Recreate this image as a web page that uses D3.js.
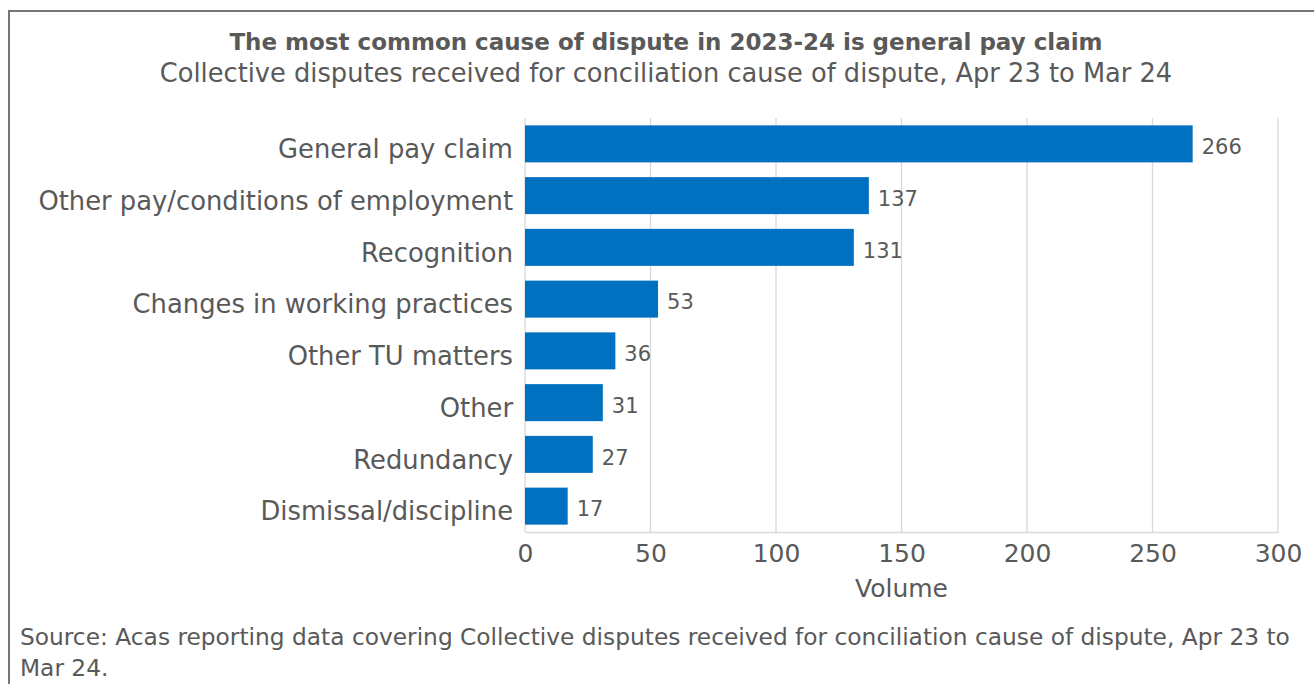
<!DOCTYPE html>
<html>
<head>
<meta charset="utf-8">
<script src="https://cdn.jsdelivr.net/npm/d3@7"></script>
<style>
  html, body { margin: 0; padding: 0; background: #fff; }
  svg { display: block; }
  text { font-family: "DejaVu Sans", sans-serif; fill: #595959; }
</style>
</head>
<body>
<svg id="chart" width="1314" height="684"></svg>
<script>
const categories = ["General pay claim", "Other pay/conditions of employment", "Recognition",
  "Changes in working practices", "Other TU matters", "Other", "Redundancy", "Dismissal/discipline"];
const values = [266, 137, 131, 53, 36, 31, 27, 17];
const xTicks = [0, 50, 100, 150, 200, 250, 300];
const titleText = "The most common cause of dispute in 2023-24 is general pay claim";
const subtitleText = "Collective disputes received for conciliation cause of dispute, Apr 23 to Mar 24";
const xAxisTitle = "Volume";
const sourceLines = ["Source: Acas reporting data covering Collective disputes received for conciliation cause of dispute, Apr 23 to", "Mar 24."];

const svg = d3.select("#chart");

// outer frame
svg.append("rect").attr("x", 9).attr("y", 11).attr("width", 1330).attr("height", 700)
  .attr("fill", "none").attr("stroke", "#767676").attr("stroke-width", 2);

const m = { left: 525, right: 1278, top: 118, bottom: 532 };

const x = d3.scaleLinear().domain([0, 300]).range([m.left, m.right]);
const y = d3.scaleBand().domain(categories).range([m.top, m.bottom]).paddingInner(0.285).paddingOuter(0.1425);

// gridlines
svg.append("g").selectAll("line").data(xTicks).join("line")
  .attr("x1", d => x(d)).attr("x2", d => x(d))
  .attr("y1", m.top).attr("y2", m.bottom)
  .attr("stroke", "#d9d9d9").attr("stroke-width", 1.3);

// bars
svg.append("g").selectAll("rect").data(values).join("rect")
  .attr("x", x(0)).attr("y", (d, i) => y(categories[i]))
  .attr("width", d => x(d) - x(0)).attr("height", y.bandwidth())
  .attr("fill", "#0070c0");

// value labels
svg.append("g").selectAll("text").data(values).join("text")
  .attr("x", d => x(d) + 9).attr("y", (d, i) => y(categories[i]) + y.bandwidth() / 2 + 3)
  .attr("dy", "0.35em").attr("font-size", 21).text(d => d);

// x axis
const xAxis = svg.append("g").attr("transform", `translate(0,${m.bottom})`)
  .call(d3.axisBottom(x).tickValues(xTicks).tickSize(0).tickPadding(12));
xAxis.select(".domain").attr("stroke", "#d9d9d9").attr("stroke-width", 1.5);
xAxis.selectAll("text").attr("font-size", 25).attr("fill", "#595959")
  .style("font-family", "DejaVu Sans, sans-serif").attr("dy", "0.71em");

// y axis
const yAxis = svg.append("g").attr("transform", `translate(${m.left},0)`)
  .call(d3.axisLeft(y).tickSize(0).tickPadding(12));
yAxis.select(".domain").remove();
yAxis.selectAll("text").attr("font-size", 25.8).attr("fill", "#595959")
  .style("font-family", "DejaVu Sans, sans-serif").attr("dy", "0.55em");

// axis title
svg.append("text").attr("x", (m.left + m.right) / 2).attr("y", 597)
  .attr("text-anchor", "middle").attr("font-size", 25).text(xAxisTitle);

// title
svg.append("text").attr("x", 666).attr("y", 50).attr("text-anchor", "middle")
  .attr("font-size", 23).attr("font-weight", "bold").text(titleText);
svg.append("text").attr("x", 666).attr("y", 82).attr("text-anchor", "middle")
  .attr("font-size", 25.7).text(subtitleText);

// source
svg.append("g").selectAll("text").data(sourceLines).join("text")
  .attr("x", 20).attr("y", (d, i) => 645 + i * 31)
  .attr("font-size", 23.3).text(d => d);
</script>
</body>
</html>
